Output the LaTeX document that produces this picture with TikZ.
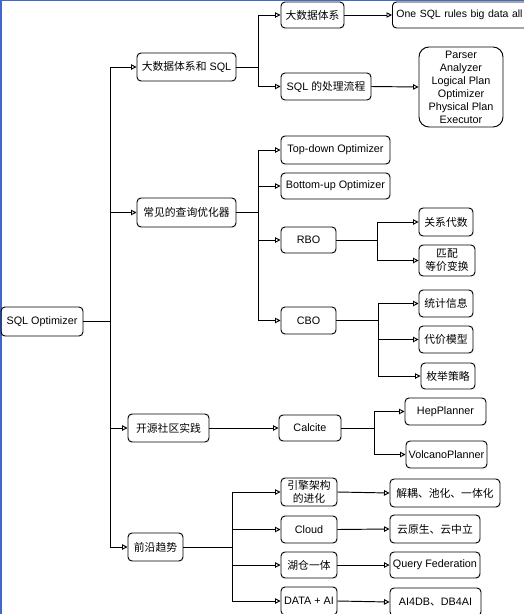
\documentclass[tikz,border=0pt]{standalone}
\usepackage{fontspec}
\setmainfont{Liberation Sans}
\newfontfamily\cjk{Noto Sans CJK SC}
\usetikzlibrary{arrows.meta}
\definecolor{frameblue}{RGB}{64,104,204}
\begin{document}
\begin{tikzpicture}[x=1pt,y=-1pt,
  box/.style={draw, rounded corners=4pt, line width=0.95pt, inner sep=0pt, align=center,
    font=\fontsize{10.8}{13}\selectfont},
  arr/.style={line width=0.95pt, -{Triangle[open,length=5.5pt,width=5.5pt]}},
  ln/.style={line width=0.95pt}]
\useasboundingbox (0,0) rectangle (524,614);
\clip (0,0) rectangle (524,614);
\fill[white] (0,0) rectangle (524,614);
% frame
\draw[frameblue, line width=2pt] (1,614) -- (1,0);
\draw[frameblue, line width=1pt] (0,0.5) -- (524,0.5);
% nodes
\node[box, minimum width=82, minimum height=29] (root) at (42,321.5) {SQL Optimizer};
\node[box, minimum width=99, minimum height=28] (A) at (186.5,67) {{\cjk 大数据体系和} SQL};
\node[box, minimum width=99, minimum height=29] (B) at (186.5,212.5) {\cjk 常见的查询优化器};
\node[box, minimum width=81, minimum height=28] (C) at (168.5,428) {\cjk 开源社区实践};
\node[box, minimum width=55, minimum height=28] (D) at (155.5,547) {\cjk 前沿趋势};
\node[box, minimum width=63, minimum height=26] (A1) at (312.5,15) {\cjk 大数据体系};
\node[box, anchor=west, text width=135, inner xsep=4pt, minimum height=26, align=left,
  font=\fontsize{10.5}{13}\selectfont] (A1a) at (392,15) {One SQL rules big data all};
\node[box, minimum width=90, minimum height=27] (A2) at (326,86.5) {SQL {\cjk 的处理流程}};
\node[box, rounded corners=10pt, minimum width=84, minimum height=80] (A2a) at (461,87) {Parser\\Analyzer\\Logical Plan\\Optimizer\\Physical Plan\\Executor};
\node[box, minimum width=109, minimum height=28] (B1) at (335.5,150) {Top-down Optimizer};
\node[box, minimum width=109, minimum height=26] (B2) at (335.5,186) {Bottom-up Optimizer};
\node[box, minimum width=55, minimum height=26] (B3) at (308.5,240) {RBO};
\node[box, minimum width=55, minimum height=27] (B4) at (308.5,320.5) {CBO};
\node[box, minimum width=54, minimum height=28] (B3a) at (446,222) {\cjk 关系代数};
\node[box, minimum width=56, minimum height=31] (B3b) at (447,260.5) {\cjk 匹配\\\cjk 等价变换};
\node[box, minimum width=54, minimum height=27] (B4a) at (446,303.5) {\cjk 统计信息};
\node[box, minimum width=54, minimum height=27] (B4b) at (446,339.5) {\cjk 代价模型};
\node[box, minimum width=54, minimum height=26] (B4c) at (448,376) {\cjk 枚举策略};
\node[box, minimum width=62, minimum height=26] (C1) at (310,428) {Calcite};
\node[box, minimum width=81, minimum height=27] (C1a) at (445.5,411.5) {HepPlanner};
\node[box, minimum width=81, minimum height=27] (C1b) at (446.5,454.5) {VolcanoPlanner};
\node[box, minimum width=56, minimum height=28] (D1) at (309,492) {\cjk 引擎架构\\\cjk 的进化};
\node[box, minimum width=56, minimum height=27] (D2) at (309,529.5) {Cloud};
\node[box, minimum width=56, minimum height=26] (D3) at (309,565) {\cjk 湖仓一体};
\node[box, minimum width=56, minimum height=28] (D4) at (309,601) {DATA + AI};
\node[box, minimum width=110, minimum height=28] (D1a) at (445,493) {\cjk 解耦、池化、一体化};
\node[box, minimum width=90, minimum height=28] (D2a) at (435,529) {\cjk 云原生、云中立};
\node[box, minimum width=90, minimum height=26] (D3a) at (435,565) {Query Federation};
\node[box, minimum width=91, minimum height=28] (D4a) at (435.5,602) {AI4DB{\cjk 、}DB4AI};
% trunk coordinates
\coordinate (t0) at (110,321.5);
\coordinate (tA) at (258,67);
\coordinate (tB) at (258,212.5);
\coordinate (tB3) at (377,240);
\coordinate (tB4) at (378,320.5);
\coordinate (tC1) at (374,428);
\coordinate (tD) at (232,547);
% connectors
\draw[ln] (root.east) -- (t0);
\foreach \n in {A,B,C,D} \draw[arr] (t0) |- (\n.west);
\draw[ln] (A.east) -- (tA);
\foreach \n in {A1,A2} \draw[arr] (tA) |- (\n.west);
\draw[arr] (A1.east) -- (A1a.west);
\draw[arr] (A2.east) -- (A2a.west);
\draw[ln] (B.east) -- (tB);
\foreach \n in {B1,B2,B3,B4} \draw[arr] (tB) |- (\n.west);
\draw[ln] (B3.east) -- (tB3);
\foreach \n in {B3a,B3b} \draw[arr] (tB3) |- (\n.west);
\draw[ln] (B4.east) -- (tB4);
\foreach \n in {B4a,B4b,B4c} \draw[arr] (tB4) |- (\n.west);
\draw[arr] (C.east) -- (C1.west);
\draw[ln] (C1.east) -- (tC1);
\foreach \n in {C1a,C1b} \draw[arr] (tC1) |- (\n.west);
\draw[ln] (D.east) -- (tD);
\foreach \n in {D1,D2,D3,D4} \draw[arr] (tD) |- (\n.west);
\draw[arr] (D1.east) -- (D1a.west);
\draw[arr] (D2.east) -- (D2a.west);
\draw[arr] (D3.east) -- (D3a.west);
\draw[arr] (D4.east) -- (D4a.west);
\end{tikzpicture}
\end{document}
